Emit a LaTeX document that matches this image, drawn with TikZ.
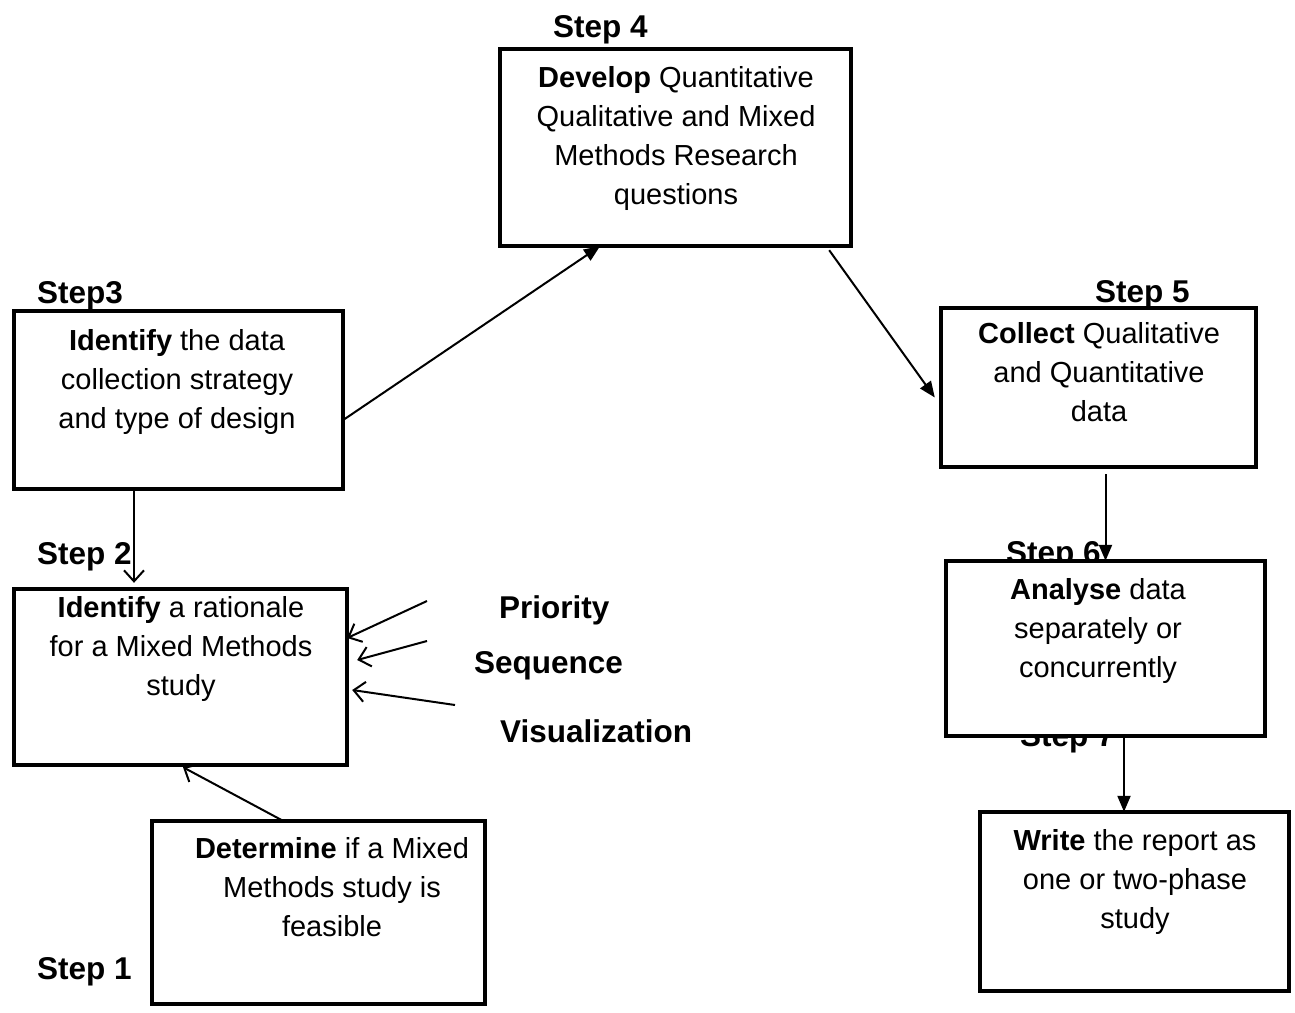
\documentclass[tikz,border=0pt]{standalone}
\usepackage{fontspec}
\setmainfont{Liberation Sans}
\usetikzlibrary{arrows.meta}
\begin{document}
\begin{tikzpicture}[x=1pt,y=-1pt,
  stepbox/.style={draw, line width=4pt, fill=white, inner sep=0pt},
  boxtext/.style={font=\fontsize{29}{39}\selectfont, align=center, inner sep=0pt, anchor=north},
  steplabel/.style={font=\fontsize{31.5}{36}\selectfont\bfseries, inner sep=0pt, anchor=base west},
  conn/.style={line width=2pt},
  solidtip/.style={conn, -{Triangle[length=16pt,width=13pt]}},
  opentip/.style={conn, -{Straight Barb[length=11pt,width=20pt]}}]
\useasboundingbox (0,0) rectangle (1295,1012);

% step labels (Step 6 and Step 7 sit partly behind the analysis box)
\node[steplabel] (l4) at (553,37) {Step 4};
\node[steplabel] (l3) at (37,303) {Step3};
\node[steplabel] (l5) at (1095,302) {Step 5};
\node[steplabel] (l2) at (37,564) {Step 2};
\node[steplabel] (l6) at (1006,563) {Step 6};
\node[steplabel] (l7) at (1020,746) {Step 7};
\node[steplabel] (l1) at (37,979) {Step 1};

% design considerations
\node[steplabel] (pri) at (499,618) {Priority};
\node[steplabel] (seq) at (474,673) {Sequence};
\node[steplabel] (vis) at (500,742) {Visualization};

% box outlines
\coordinate (c4) at (675.5,147.5);
\coordinate (c3) at (178.5,400);
\coordinate (c5) at (1098.5,387.5);
\coordinate (c2) at (180.5,677);
\coordinate (c6) at (1105.5,648.5);
\coordinate (c1) at (318.5,912.5);
\coordinate (c7) at (1134.5,901.5);

% free ends of the consideration arrows
\coordinate (p1) at (427,601);
\coordinate (p2) at (427,641);
\coordinate (p3) at (455,705);

% nodes are placed first (invisible) so connectors can refer to them
\path
  node[minimum width=351pt, minimum height=197pt, inner sep=0pt] (b4) at (c4) {}
  node[minimum width=329pt, minimum height=178pt, inner sep=0pt] (b3) at (c3) {}
  node[minimum width=315pt, minimum height=159pt, inner sep=0pt] (b5) at (c5) {}
  node[minimum width=333pt, minimum height=176pt, inner sep=0pt] (b2) at (c2) {}
  node[minimum width=319pt, minimum height=175pt, inner sep=0pt] (b6) at (c6) {}
  node[minimum width=333pt, minimum height=183pt, inner sep=0pt] (b1) at (c1) {}
  node[minimum width=309pt, minimum height=179pt, inner sep=0pt] (b7) at (c7) {};

% connectors
\draw[opentip] ([xshift=-35.5pt]b1.north) -- ([xshift=2.5pt,yshift=-2pt]b2.south);
\draw[opentip] ([xshift=-44.5pt]b3.south) -- ([xshift=-44.5pt,yshift=6pt]b3.south |- b2.north);
\draw[opentip] (p1) -- ([yshift=39pt]b2.east);
\draw[opentip] (p2) -- ([xshift=10pt,yshift=17pt]b2.east);
\draw[opentip] (p3) -- ([xshift=5pt,yshift=-13pt]b2.east);

% boxes
\node[stepbox, minimum width=351pt, minimum height=197pt] (B4) at (c4) {};
\node[stepbox, minimum width=329pt, minimum height=178pt] (B3) at (c3) {};
\node[stepbox, minimum width=315pt, minimum height=159pt] (B5) at (c5) {};
\node[stepbox, minimum width=333pt, minimum height=176pt] (B2) at (c2) {};
\node[stepbox, minimum width=319pt, minimum height=175pt] (B6) at (c6) {};
\node[stepbox, minimum width=333pt, minimum height=183pt] (B1) at (c1) {};
\node[stepbox, minimum width=309pt, minimum height=179pt] (B7) at (c7) {};

\draw[solidtip] ([yshift=-20pt]b3.east) -- ([xshift=-75.5pt]b4.south);
\draw[solidtip] ([xshift=-22pt,yshift=-4pt]b4.south east) -- ([xshift=-6pt,yshift=-10pt]b5.west);
\draw[solidtip] ([yshift=-7pt]b6.north |- b5.south) -- (b6.north);
\draw[solidtip] ([xshift=18.5pt,yshift=-2pt]b6.south) -- ([xshift=18.5pt]b6.south |- b7.north);

% box texts
\node[boxtext] (t4) at (676,66.5) {\textbf{Develop} Quantitative\\Qualitative and Mixed\\Methods Research\\questions};
\node[boxtext] (t3) at (177,329.5) {\textbf{Identify} the data\\collection strategy\\and type of design};
\node[boxtext] (t5) at (1099,322.5) {\textbf{Collect} Qualitative\\and Quantitative\\data};
\node[boxtext] (t2) at (181,596.5) {\textbf{Identify} a rationale\\for a Mixed Methods\\study};
\node[boxtext] (t6) at (1098,578.5) {\textbf{Analyse} data\\separately or\\concurrently};
\node[boxtext] (t1) at (332,837.5) {\textbf{Determine} if a Mixed\\Methods study is\\feasible};
\node[boxtext] (t7) at (1135,829.5) {\textbf{Write} the report as\\one or two-phase\\study};
\end{tikzpicture}
\end{document}
